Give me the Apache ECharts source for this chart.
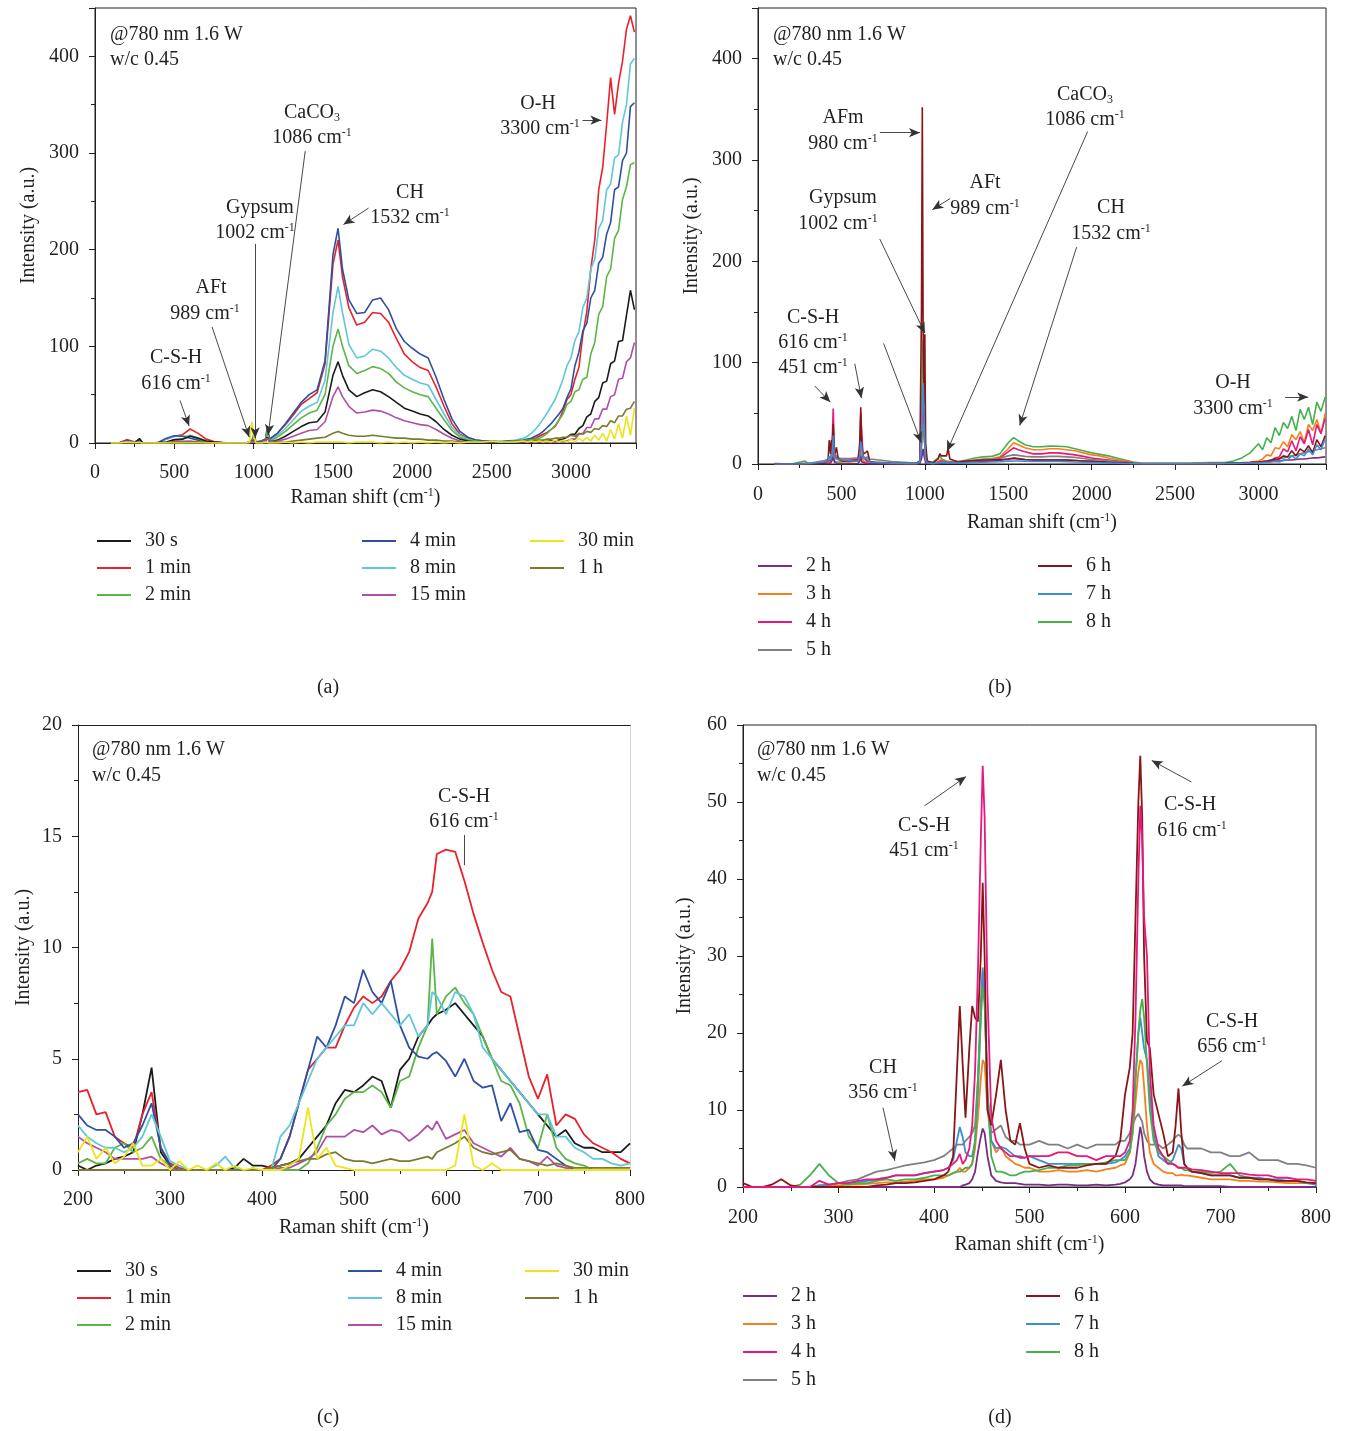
<!DOCTYPE html>
<html>
<head>
<meta charset="utf-8">
<title>Raman spectra of hydrating cement paste</title>
<script src="https://cdn.jsdelivr.net/npm/echarts@6/dist/echarts.min.js"></script>
<style>
  html, body { margin: 0; padding: 0; background: #fff; }
  #main { width: 1347px; height: 1431px; }
</style>
</head>
<body>
<div id="main"></div>
<script>
// ---- panel (a): early age, full range ----
const A_X = [
  100,150,200,250,280,300,350,400,450,500,
  550,600,650,700,750,800,850,900,950,975,
  989,1002,1015,1050,1075,1086,1100,1150,1200,1250,
  1300,1350,1400,1450,1500,1532,1560,1600,1650,1700,
  1750,1800,1850,1900,1950,2000,2050,2100,2150,2200,
  2250,2300,2350,2400,2450,2500,2550,2600,2650,2700,
  2725,2750,2775,2800,2825,2850,2875,2900,2925,2950,
  2975,3000,3025,3050,3075,3100,3125,3150,3175,3200,
  3225,3250,3275,3300,3325,3350,3375,3400
]
const A_30S = [
  0,0,1,0,4.6,0,0,0.5,1,3.5,
  4,7,5,2,1,0.5,0,0,0,0,
  2,3,1,1,2,6,1,3,7,12,
  17,21,22,32,70,84,70,55,48,52,
  55,53,48,42,36,33,30,28,22,14,
  8,4,2,1,1,1,1,1,1,1,
  1,1,1,1,1,2,2,2,3,4,
  6,9,9,15,18,27,30,43,47,62,
  64,82,85,105,106,132,158,138
]
const A_1MIN = [
  0,0,3.5,1,3.5,0.5,0,0.5,4,7,
  8.5,14.5,10,4,1.5,0.5,0,0,0,1,
  2,3,1,2,4,16,4,10,19,29,
  40,46,52,82,185,210,172,140,122,125,
  135,134,125,108,92,84,78,75,58,38,
  20,9,5,3,2,2,1,2,2,2,
  3,4,5,7,9,11,14,17,24,33,
  45,50,66,78,112,136,180,210,262,285,
  330,378,340,372,395,428,442,425
]
const A_2MIN = [
  0,0,0.5,0,1,0,0,0,0.5,3,
  3.5,8,5,1,0.2,0,0,0,0,1,
  2,3,1,1,3,12,2,6,12,19,
  26,31,34,50,100,118,100,80,72,75,
  79,77,72,63,57,53,50,48,36,24,
  13,6,3,2,1,1,1,1,2,2,
  3,3,4,5,7,10,14,18,24,30,
  40,43,53,55,66,68,92,104,133,141,
  172,180,212,220,252,265,288,290
]
const A_4MIN = [
  0,0,2.5,1,3,0.5,0,0.5,5,7.5,
  7,5,3,1,0.5,0,0,0,0,1,
  2,3,1,2,4,14,4,10,20,31,
  42,50,55,85,195,222,180,148,134,135,
  148,150,138,118,105,98,92,88,68,45,
  25,12,6,3,2,2,1,2,2,3,
  4,5,7,9,12,16,20,25,30,36,
  47,56,80,94,116,124,150,158,186,192,
  216,228,262,265,292,300,348,352
]
const A_8MIN = [
  0,0,2,1,2.5,0.5,0,0.5,4,7,
  7,7.5,5.5,2,0.5,0,0,0,0,1,
  3,10,1,2,4,15,3,8,15,24,
  33,38,42,65,135,162,135,102,88,90,
  97,95,88,78,70,66,62,60,45,30,
  16,8,4,3,2,2,2,2,3,5,
  7,10,14,19,25,31,38,45,55,66,
  80,88,106,115,140,150,180,190,222,230,
  262,268,295,298,332,350,392,398
]
const A_15MIN = [
  0,0,1.5,0.5,1,0,0,0,0.5,1.5,
  1.8,2,1,0.5,0,0,0,0,0,0,
  1,2,0,1,2,5,1,2,4,7,
  10,13,14,22,48,58,48,38,31,32,
  34,33,30,26,23,21,19,18,14,9,
  5,2,1,1,1,1,1,1,1,1,
  1,1,1,1,1,1,1,1,2,2,
  2,4,4,9,10,16,16,25,25,35,
  35,48,50,66,67,84,88,104
]
const A_30MIN = [
  0,0,1,0.5,0.5,0,0,0,0,0,
  0,0,0,0,0,0,0,0,0,1,
  22,6,0,0,1,2,0,0,1,0,
  1,0,1,1,1,1,1,0,1,1,
  1,0,1,0,1,0,1,0,1,0,
  1,0,1,1,1,2,1,1,1,2,
  1,2,1,2,1,2,1,3,1,3,
  1,4,1,5,2,6,2,8,3,10,
  2,14,4,20,5,28,8,36
]
const A_1H = [
  0,0,0,0,0,0,0,0,0.5,0.5,
  0.4,1,1,0.3,0,0,0,0,0,1,
  3,8,1,0,0,1,0,1,1,2,
  3,4,5,6,10,12,10,8,7,7,
  8,7,6,5,5,4,4,3,3,2,
  2,1,1,1,1,1,1,1,2,2,
  2,2,3,3,3,4,4,5,5,6,
  6,8,7,10,9,12,11,15,14,18,
  17,23,21,28,28,35,36,43
]

// ---- panel (b): 2 h to 8 h, full range ----
const B_X = [
  100,200,280,300,400,420,427,435,440,446,
  451,458,470,480,500,550,600,610,616,622,
  630,656,670,700,800,900,950,970,980,985,
  990,995,1000,1005,1015,1050,1080,1090,1100,1130,
  1140,1150,1200,1250,1300,1350,1400,1450,1500,1532,
  1560,1600,1650,1700,1750,1800,1850,1900,1950,2000,
  2050,2100,2150,2200,2250,2300,2350,2400,2500,2600,
  2700,2800,2850,2900,2950,3000,3025,3050,3075,3100,
  3125,3150,3175,3200,3225,3250,3275,3300,3325,3350,
  3375,3400
]
const B_2H = [
  0,0,0,0.2,0.5,0.5,0.5,1,1,4,
  7.6,2,0.8,0.5,0.3,0.3,0.5,3,7.8,2,
  0.3,0.2,0.1,0.1,0,0,0,0.5,5,10,
  15,8,5,1,0.3,0.2,0.5,1,1,0.8,
  1,0.8,1,1.5,2,2.5,3,3.5,5,6,
  5.5,4.5,4,4,4,4,3.8,3.5,3,2.8,
  2.5,2,1.5,1,0.5,0.3,0.2,0.2,0.2,0.2,
  0.3,0.5,0.8,1,1.2,1.5,1.8,2,2.5,3,
  3,3.5,4,4,4.5,5,5,5.5,6,6,
  6.5,7
]
const B_3H = [
  0,0,0.2,0.2,1,1.8,2.5,2,3,9,
  16.5,8,5.3,3.5,2.5,2,2.5,7,16.5,12,
  3,1.5,1.4,1,0.5,0.3,0.5,2,20,40,
  55,30,20,5,1,0.5,2,4,3,2,
  3,2,2,3,4,5,5.5,7,15,21,
  19,16,14,14,15,15,14,13,11,9,
  8,6,4.5,3,1.5,0.8,0.5,0.5,0.5,0.5,
  0.8,1,1.2,1.5,2,3,5,9,8,16,
  15,22,17,29,24,32,21,39,33,44,
  30,50
]
const B_4H = [
  0,0,0.8,0.5,2,3,4.3,4,8,28,
  54.7,9,5,4,4,4,4.5,22,49.5,30,
  8,2.5,2.5,1.8,1,0.5,0.5,2,25,50,
  70,40,25,5,1,0.5,2,3,3,2,
  2,2,2,3,3.5,4,4.5,6,12,16,
  14,12,10,10,11,11,10,9,7.5,6,
  5,4,3,2,1,0.5,0.5,0.5,0.5,0.5,
  0.5,0.8,1,1.2,1.5,2,2.5,3,3,6,
  7,15,12,23,13,27,20,34,19,39,
  30,45
]
const B_5H = [
  0,0,0,0.5,3.5,5,5.5,6.5,7,14,
  28.5,8,8,6,5.5,5.5,6,9,9,8.5,
  5.5,6.8,5,4.5,2.5,1.5,1,2,15,30,
  40,25,18,4,1.5,1,1.5,2,2,2,
  2,2,2.5,3,3.5,4.5,5,6,8,9,
  8.5,7.5,7,7,7.5,7.5,7,6.5,5.5,4.5,
  4,3.5,2.5,1.5,1,0.5,0.5,0.5,0.5,0.5,
  0.5,0.8,1,1,1.2,1.5,2,2.5,3,4,
  5,6,7,8,9,10,11,12,13,14,
  15,16
]
const B_6H = [
  0.5,0,0,0,1,4,23.5,10,23.5,21.5,
  39.5,8,16.5,6,3,2.5,4,15.5,56,19,
  9.5,12.8,2.5,1.5,0.8,0.5,0.5,3,150,352,
  130,60,128,20,3,1,5,10,8,8,
  15,5,2,3,3.5,4,4,4.5,5,5.5,
  5,4.5,4,4,4,4,3.8,3.5,3,2.5,
  2,1.5,1,0.8,0.5,0.3,0.3,0.3,0.3,0.3,
  0.5,0.8,1,1.2,1.5,2,2.5,3,4,5,
  5,8,7,13,8,15,12,18,11,24,
  17,28
]
const B_7H = [
  0,0,0.2,0.5,2,3.5,7.8,4,4,12,
  28,6,5.2,4.5,4,3,3,8,22,16.5,
  7,5.5,2,1.5,0.8,0.5,0.5,2,30,60,
  80,50,20,4,1,0.5,1,2,1.5,1,
  1.2,1,1,1.2,1.5,1.8,2,2.2,2.8,3,
  3,2.8,2.5,2.5,2.5,2.5,2.3,2,1.8,1.5,
  1.2,1,0.8,0.5,0.3,0.2,0.2,0.2,0.2,0.2,
  0.3,0.5,0.6,0.8,1,1.2,1.5,1.8,2,2.5,
  2,4,4,8,5,10,8,15,9,19,
  14,25
]
const B_8H = [
  0,0,3,0.5,1.5,2,2,2.5,3,14,
  25.9,3,2,1.5,2,2.8,3.5,14,24.4,16,
  6,2.5,2,2,1,0.5,0.8,3,40,100,
  122,80,40,10,2,2,6,9,5,3,
  3,2.5,2.5,4,6,7,7.5,10,21,26,
  23,19,17,17,17.6,17.5,17,15,13,11,
  9.5,8,6,4,2,1,0.8,0.8,0.8,1,
  1.5,1.5,3,6,11,20,14,26,21,36,
  28,41,35,47,33,54,44,56,39,61,
  52,66
]

// ---- panel (c): early age, 200-800 ----
const C_X = [
  200,210,220,230,240,250,260,270,280,290,
  300,310,320,330,340,350,360,370,380,390,
  400,410,420,430,440,450,460,470,480,490,
  500,510,520,530,540,550,560,570,580,585,
  590,600,610,620,630,640,650,660,670,680,
  690,700,710,720,730,740,750,760,770,780,
  790,800
]
const C_30S = [
  0.2,0,0.2,0.3,0.5,0.6,0.8,2.5,4.6,0.8,
  0.2,0,0,0,0,0,0,0.1,0.5,0.2,
  0.2,0.1,0.2,0.3,0.5,1.0,1.5,2.0,3.0,3.6,
  3.5,3.8,4.2,4.0,2.8,4.5,5.0,6.0,6.5,6.8,
  7.0,7.2,7.5,7.0,6.5,6.0,5.0,4.5,4.0,3.5,
  3.0,2.5,2.0,1.5,1.8,1.2,1.0,1.0,0.8,0.8,
  0.8,1.2
]
const C_1MIN = [
  3.5,3.6,2.5,2.6,1.5,1.2,1.0,2.5,3.5,1.0,
  0.3,0.1,0,0,0,0,0,0,0,0,
  0,0.2,0.5,1.5,3.0,4.5,5.0,5.5,5.5,6.5,
  7.3,7.8,7.5,7.8,8.5,9.0,9.8,11.3,12.0,12.5,
  14.2,14.4,14.3,13.0,11.5,10.2,9.0,8.0,7.8,6.0,
  4.2,3.2,4.3,2.0,2.5,2.3,1.6,1.2,1.0,0.8,
  0.5,0.3
]
const C_2MIN = [
  0.3,0.5,0.3,0.3,1.0,1.2,0.8,1.0,1.5,0.5,
  0.2,0,0,0,0,0,0,0,0,0,
  0,0,0,0,0,0.3,1.0,2.0,2.5,3.2,
  3.5,3.5,3.8,3.5,2.8,4.0,4.2,5.5,6.5,10.4,
  7.0,7.8,8.2,7.5,7.0,6.0,5.0,4.0,3.8,3.0,
  1.5,1.0,2.5,1.0,0.5,0.3,0.2,0,0,0,
  0,0
]
const C_4MIN = [
  2.5,2.0,1.8,1.8,1.5,1.0,1.2,2.0,3.0,1.0,
  0.2,0,0,0,0,0,0,0,0,0,
  0,0,0.5,1.5,3.0,4.5,6.0,5.5,6.5,7.8,
  7.5,9.0,8.0,7.5,8.5,6.5,5.5,5.1,5.0,5.2,
  5.3,4.9,4.2,5.0,4.0,3.7,3.8,2.2,3.0,1.7,
  1.8,0.9,0.8,0.5,0.2,0,0,0,0,0,
  0,0
]
const C_8MIN = [
  2.0,1.5,1.2,1.0,1.0,0.8,1.0,1.5,2.5,1.5,
  0.4,0.2,0,0,0,0.2,0.6,0.1,0,0,
  0,0,1.5,2.0,3.0,4.0,5.0,5.5,6.0,6.5,
  6.5,7.5,7.0,7.5,7.0,6.5,7.0,6.0,6.5,8.0,
  7.8,7.0,8.0,7.8,7.0,5.5,5.0,4.5,4.0,3.5,
  3.0,2.5,2.5,1.5,1.5,1.0,0.8,0.5,0.5,0.3,
  0.2,0.3
]
const C_15MIN = [
  1.5,1.2,1.0,0.8,0.5,0.5,0.5,0.5,0.6,0.3,
  0.1,0,0,0,0,0,0,0,0,0,
  0,0,0.1,0.1,0.3,0.5,0.8,1.5,1.5,1.5,
  1.8,1.7,2.0,1.6,1.8,1.7,1.3,1.6,2.0,1.8,
  2.2,1.4,1.6,1.8,1.2,1.0,0.8,0.6,1.0,0.5,
  0.4,0.2,0.6,0.2,0.1,0,0,0,0,0,
  0,0
]
const C_30MIN = [
  0.8,1.5,0.5,1.0,0.3,0.6,1.2,0.2,0.2,0.5,
  0,0.4,0,0.2,0,0.3,0,0.2,0,0.1,
  0,0,0,0.2,0.5,2.8,0.5,1.0,0.2,0.1,
  0,0,0,0,0,0,0,0,0,0,
  0,0,0.2,2.5,0.2,0,0.3,0,0,0,
  0,0,0,0,0,0,0,0,0,0,
  0,0
]
const C_1H = [
  0,0,0,0,0,0,0,0,0,0,
  0,0,0,0,0,0,0,0,0,0,
  0,0.1,0.2,0.3,0.4,0.5,0.5,0.7,0.8,0.5,
  0.4,0.4,0.3,0.4,0.5,0.4,0.4,0.5,0.6,0.5,
  0.8,1.0,1.2,1.5,1.0,0.8,0.7,0.8,0.9,0.5,
  0.4,0.3,0.2,0.3,0.2,0.1,0.1,0.1,0.1,0.1,
  0.1,0.1
]

// ---- panel (d): 2 h to 8 h, 200-800 ----
const D_X = [
  200,210,220,230,240,250,260,270,280,290,
  300,310,320,330,340,350,360,370,380,390,
  400,410,415,420,424,427,430,433,437,440,
  443,446,449,451,453,456,460,465,470,475,
  480,485,490,495,500,510,520,530,540,550,
  560,570,580,590,595,600,605,608,611,614,
  616,618,620,623,626,630,635,640,645,650,
  653,656,659,662,665,670,680,690,700,710,
  720,730,740,750,760,770,780,790,800
]
const D_2H = [
  0,0,0,0,0,0,0,0,0,0,
  0,0,0,0,0,0,0,0,0,0,
  0,0,0,0,0,0,0.2,0.3,0.5,1.0,
  2.0,4.5,6.5,7.6,7.0,4.0,1.5,0.8,0.6,0.5,
  0.5,0.5,0.4,0.3,0.3,0.3,0.2,0.3,0.3,0.2,
  0.2,0.3,0.2,0.3,0.4,0.6,1.0,1.5,3.0,6.0,
  7.8,6.5,4.0,2.0,1.0,0.5,0.3,0.2,0.2,0.2,
  0.2,0.2,0.2,0.1,0.1,0.1,0.1,0.1,0.1,0,
  0,0,0,0,0,0,0,0,0
]
const D_3H = [
  0,0,0,0,0,0,0,0,0.2,0.3,
  0.2,0.3,0.3,0.4,0.5,0.6,0.6,0.7,0.8,1.0,
  1.0,1.2,1.5,1.8,2.0,2.5,2.0,2.0,2.5,3.0,
  5.0,9.0,14.0,16.5,16.0,10.0,6.0,4.5,5.3,4.0,
  3.5,3.0,2.8,2.5,2.5,2.0,2.0,2.2,2.0,2.0,
  2.2,2.0,2.3,2.5,2.8,3.0,4.5,7.0,11.0,15.0,
  16.5,16.0,13.0,8.0,4.5,3.0,2.5,2.0,1.8,1.8,
  1.5,1.5,1.6,1.5,1.5,1.4,1.2,1.0,1.0,1.0,
  0.8,0.8,0.7,0.7,0.6,0.5,0.5,0.5,0.5
]
const D_4H = [
  0,0,0,0,0,0,0,0,0.8,0.3,
  0.5,0.5,0.8,1.0,1.0,1.2,1.5,1.5,1.5,1.8,
  2.0,2.2,2.5,3.0,3.5,4.3,3.0,3.5,5.0,8.0,
  15.0,28.0,45.0,54.7,48.0,25.0,9.0,6.0,5.0,4.5,
  4.0,4.0,3.8,3.8,4.0,4.0,4.0,4.5,4.5,4.0,
  4.0,3.5,4.0,4.0,4.0,4.5,6.0,10.0,22.0,40.0,
  49.5,45.0,35.0,30.0,15.0,8.0,5.0,4.0,3.0,3.0,
  2.8,2.5,2.5,2.5,2.5,2.3,2.2,2.0,1.8,1.8,
  1.8,1.6,1.5,1.5,1.2,1.2,1.0,1.0,0.8
]
const D_5H = [
  0,0,0,0,0,0,0,0,0,0.2,
  0.5,0.8,1.0,1.5,2.0,2.2,2.5,2.8,3.0,3.2,
  3.5,4.0,4.5,5.0,5.5,5.5,5.5,6.0,6.5,7.0,
  8.0,14.0,24.0,28.5,24.0,12.0,7.0,7.5,8.0,6.5,
  6.0,6.0,5.5,5.5,5.5,6.0,5.5,5.5,5.0,5.5,
  5.0,5.5,5.5,5.5,6.0,6.0,7.0,8.0,9.0,9.5,
  9.0,8.5,7.0,6.0,5.5,5.5,5.5,5.0,5.5,6.0,
  6.5,6.8,6.5,5.5,5.0,5.0,5.0,4.5,4.5,4.0,
  4.0,4.5,3.5,3.5,3.5,3.0,3.0,2.8,2.5
]
const D_6H = [
  0.5,0,0,0.3,1.0,0.2,0,0,0,0,
  0,0,0,0,0.2,0.3,0.5,0.5,0.6,0.8,
  1.0,1.5,2.0,4.0,15.0,23.5,16.0,9.0,18.0,23.5,
  22.0,21.5,30.0,39.5,30.0,10.0,8.0,12.0,16.5,10.0,
  6.0,5.5,8.3,5.0,3.0,2.5,2.8,2.5,2.5,2.5,
  2.8,3.0,3.0,4.0,6.0,12.0,15.5,20.0,35.0,50.0,
  56.0,48.0,30.0,19.0,18.0,12.0,9.5,7.0,4.0,4.5,
  8.0,12.8,7.0,3.0,2.5,2.0,1.8,1.5,1.5,1.5,
  1.2,1.2,1.0,1.0,0.8,0.8,0.8,0.6,0.5
]
const D_7H = [
  0,0,0,0,0,0,0,0,0.2,0.3,
  0.5,0.5,0.6,0.8,1.0,1.2,1.5,1.5,1.5,1.8,
  2.0,2.2,2.5,3.5,6.0,7.8,6.5,4.5,4.0,4.0,
  6.0,12.0,22.0,28.0,25.0,12.0,6.0,5.0,5.2,5.0,
  4.5,4.0,4.0,3.8,4.0,3.5,3.0,3.0,3.0,3.0,
  3.0,3.0,3.0,3.2,3.5,4.0,5.0,8.0,14.0,20.0,
  22.0,20.0,18.0,16.5,12.0,7.0,4.0,3.5,3.0,3.5,
  4.5,5.5,5.0,3.0,2.5,2.0,1.8,1.5,1.5,1.5,
  1.2,1.2,1.2,1.0,1.0,0.8,0.8,0.5,0.3
]
const D_8H = [
  0,0,0,0,0,0,0.3,1.5,3.0,1.5,
  0.5,0.3,0.5,0.5,0.8,1.0,0.8,1.0,1.0,1.2,
  1.5,1.5,1.5,1.8,2.0,2.0,2.2,2.5,2.5,3.0,
  6.0,14.0,22.0,25.9,24.0,12.0,4.0,2.0,2.0,1.8,
  1.5,1.5,1.8,2.0,2.0,2.2,2.5,2.5,2.8,2.8,
  3.0,3.0,3.2,3.5,3.5,3.5,4.5,7.0,14.0,20.0,
  23.0,24.4,22.0,16.0,10.0,6.0,4.5,4.0,3.5,3.0,
  2.8,2.5,2.5,2.2,2.2,2.0,2.0,1.8,2.0,3.0,
  1.5,1.2,1.0,1.0,0.8,0.8,0.8,0.5,0.5
]

const EARLY_NAMES = ['30 s', '1 min', '2 min', '4 min', '8 min', '15 min', '30 min', '1 h']
const LATE_NAMES = ['2 h', '3 h', '4 h', '5 h', '6 h', '7 h', '8 h']

// arrows, in data units of each panel: [from, to, hasHead]
const ARROWS_A = [
  [[536, 44], [593, 17.5], true],
  [[738, 120], [972, 6], true],
  [[1009, 206], [1009, 5], true],
  [[1325, 302], [1091, 8], true],
  [[1724, 243], [1566, 226], true],
  [[3073, 334], [3192, 334], true]
]
const ARROWS_B = [
  [[731, 327], [971, 327], true],
  [[730, 222], [1001, 129], true],
  [[1152, 262], [1045, 251], true],
  [[1976, 328], [1133, 12.5], true],
  [[1910, 214], [1569, 38], true],
  [[340, 77], [434, 61], true],
  [[580, 99], [620, 65], true],
  [[753, 119], [979, 21], true],
  [[3160, 66], [3298, 66], true]
]
const ARROWS_C = [
  [[619.6, 15.06], [619.6, 13.7], false]
]
const ARROWS_D = [
  [[390, 49.5], [433.5, 53.3], true],
  [[669.5, 52.6], [628, 55.4], true],
  [[701.5, 16.4], [660, 13.1], true],
  [[346.6, 10.3], [359, 3.4], true]
]

const FONT = '"Liberation Serif", "DejaVu Serif", serif'
const INK = '#231f20'
const COLORS = {
  '30 s': '#1b1b1b', '1 min': '#e8222a', '2 min': '#5cb646', '4 min': '#2f4fa3',
  '8 min': '#5ec7d9', '15 min': '#b04fa7', '30 min': '#ece51b', '1 h': '#7b7a30',
  '2 h': '#7b2c83', '3 h': '#f4801f', '4 h': '#e8177e', '5 h': '#808080',
  '6 h': '#8a1516', '7 h': '#3a8ed3', '8 h': '#46b04b'
}
const RICH = {
  n: { fontFamily: FONT, fontSize: 20, color: INK, lineHeight: 22 },
  s: { fontFamily: FONT, fontSize: 12, color: INK, lineHeight: 12, verticalAlign: 'top' },
  b: { fontFamily: FONT, fontSize: 12, color: INK, lineHeight: 12, verticalAlign: 'bottom' }
}
const wn = v => '{n|' + v + ' cm}{s|-1}'

function spectrum(name, grid, xs, ys, width) {
  if (xs.length !== ys.length) throw new Error('length mismatch: ' + name + ' ' + grid)
  return {
    name,
    type: 'line',
    xAxisIndex: grid,
    yAxisIndex: grid,
    data: xs.map((x, i) => [x, ys[i]]),
    symbol: 'none',
    showSymbol: false,
    color: COLORS[name],
    lineStyle: { width, color: COLORS[name] },
    silent: true,
    animation: false
  }
}

function arrowSeries(grid, arrows) {
  return {
    type: 'line',
    xAxisIndex: grid,
    yAxisIndex: grid,
    data: [],
    silent: true,
    markLine: {
      silent: true,
      animation: false,
      symbol: ['none', 'arrow'],
      symbolSize: [7, 11],
      label: { show: false },
      lineStyle: { color: '#333', width: 0.9, type: 'solid' },
      data: arrows.map(a => [
        { coord: a[0], symbol: 'none' },
        { coord: a[1], symbol: a[2] ? 'arrow' : 'none' }
      ])
    }
  }
}

const plain = v => String(v)

function xAxis(grid, min, max, interval, nameGap, labelMargin, showMax) {
  return {
    type: 'value', gridIndex: grid, min, max, interval,
    name: '{n|Raman shift (cm}{s|-1}{n|)}',
    nameLocation: 'middle',
    nameGap,
    nameTextStyle: { rich: RICH },
    axisLine: { onZero: false, lineStyle: { color: INK, width: 1 } },
    axisTick: { length: 6, lineStyle: { color: INK } },
    minorTick: { show: true, splitNumber: 2, length: 4, lineStyle: { color: INK } },
    axisLabel: { fontFamily: FONT, fontSize: 20, color: INK, margin: labelMargin, showMaxLabel: showMax, formatter: plain },
    splitLine: { show: false },
    minorSplitLine: { show: false }
  }
}

function yAxis(grid, max, interval, nameGap, showMax) {
  return {
    type: 'value', gridIndex: grid, min: 0, max, interval,
    name: 'Intensity (a.u.)',
    nameLocation: 'middle',
    nameGap,
    nameTextStyle: { fontFamily: FONT, fontSize: 20, color: INK },
    axisLine: { show: true, onZero: false, lineStyle: { color: INK, width: 1 } },
    axisTick: { show: true, length: 6, lineStyle: { color: INK } },
    minorTick: { show: true, splitNumber: 2, length: 4, lineStyle: { color: INK } },
    axisLabel: { fontFamily: FONT, fontSize: 20, color: INK, margin: 16, showMaxLabel: showMax, formatter: plain },
    splitLine: { show: false },
    minorSplitLine: { show: false }
  }
}

function legend(left, top, names, gap) {
  return {
    left, top,
    orient: 'vertical',
    data: names,
    icon: 'rect',
    itemWidth: 34,
    itemHeight: 2,
    itemGap: gap,
    selectedMode: false,
    textStyle: { fontFamily: FONT, fontSize: 20, color: INK, lineHeight: 20, padding: [0, 0, 0, 9] }
  }
}

const series = []
const A_SETS = [A_30S, A_1MIN, A_2MIN, A_4MIN, A_8MIN, A_15MIN, A_30MIN, A_1H]
const C_SETS = [C_30S, C_1MIN, C_2MIN, C_4MIN, C_8MIN, C_15MIN, C_30MIN, C_1H]
// draw order for (a) puts the lowest curves last, as in the figure
;[1, 4, 3, 2, 0, 5, 7, 6].forEach(i => series.push(spectrum(EARLY_NAMES[i], 0, A_X, A_SETS[i], 1.6)))
const B_SETS = [B_2H, B_3H, B_4H, B_5H, B_6H, B_7H, B_8H]
;[6, 1, 2, 3, 0, 4, 5].forEach(i => series.push(spectrum(LATE_NAMES[i], 1, B_X, B_SETS[i], 1.6)))
;[0, 1, 2, 3, 4, 5, 7, 6].forEach(i => series.push(spectrum(EARLY_NAMES[i], 2, C_X, C_SETS[i], 1.8)))
const D_SETS = [D_2H, D_3H, D_4H, D_5H, D_6H, D_7H, D_8H]
;[3, 0, 1, 5, 6, 4, 2].forEach(i => series.push(spectrum(LATE_NAMES[i], 3, D_X, D_SETS[i], 1.8)))
series.push(arrowSeries(0, ARROWS_A), arrowSeries(1, ARROWS_B), arrowSeries(2, ARROWS_C), arrowSeries(3, ARROWS_D))

// text annotations (pixel layout of the figure)
const NOTES = [
  [110, 35, '{n|@780 nm 1.6 W}', 'left'], [110, 60, '{n|w/c 0.45}', 'left'],
  [176, 358, '{n|C-S-H}'], [176, 384, wn(616)],
  [211, 288, '{n|AFt}'], [205, 314, wn(989)],
  [260, 208, '{n|Gypsum}'], [255, 233, wn(1002)],
  [312, 113, '{n|CaCO}{b|3}'], [312, 138, wn(1086)],
  [410, 193, '{n|CH}'], [410, 218, wn(1532)],
  [538, 104, '{n|O-H}'], [540, 129, wn(3300)],

  [773, 35, '{n|@780 nm 1.6 W}', 'left'], [773, 60, '{n|w/c 0.45}', 'left'],
  [843, 118, '{n|AFm}'], [843, 144, wn(980)],
  [843, 198, '{n|Gypsum}'], [838, 224, wn(1002)],
  [985, 183, '{n|AFt}'], [985, 209, wn(989)],
  [1085, 95, '{n|CaCO}{b|3}'], [1085, 120, wn(1086)],
  [1111, 208, '{n|CH}'], [1111, 234, wn(1532)],
  [813, 318, '{n|C-S-H}'], [813, 343, wn(616)], [813, 368, wn(451)],
  [1233, 383, '{n|O-H}'], [1233, 409, wn(3300)],

  [92, 750, '{n|@780 nm 1.6 W}', 'left'], [92, 776, '{n|w/c 0.45}', 'left'],
  [464, 797, '{n|C-S-H}'], [464, 822, wn(616)],

  [757, 750, '{n|@780 nm 1.6 W}', 'left'], [757, 776, '{n|w/c 0.45}', 'left'],
  [924, 826, '{n|C-S-H}'], [924, 851, wn(451)],
  [1190, 805, '{n|C-S-H}'], [1192, 831, wn(616)],
  [1232, 1022, '{n|C-S-H}'], [1232, 1047, wn(656)],
  [883, 1068, '{n|CH}'], [883, 1093, wn(356)],

  [328, 688, '{n|(a)}'], [1000, 688, '{n|(b)}'], [328, 1418, '{n|(c)}'], [1000, 1418, '{n|(d)}']
]

const option = {
  backgroundColor: '#fff',
  animation: false,
  grid: [
    { left: 95, top: 8, width: 541, height: 435, show: true, borderColor: INK, borderWidth: 1 },
    { left: 758, top: 8, width: 568, height: 456, show: true, borderColor: INK, borderWidth: 1 },
    { left: 78, top: 725, width: 552, height: 445 },
    { left: 743, top: 725, width: 573, height: 462, show: true, borderColor: INK, borderWidth: 1 }
  ],
  xAxis: [
    xAxis(0, 0, 3410, 500, 44, 20, false),
    xAxis(1, 0, 3405, 500, 48, 21, false),
    xAxis(2, 200, 800, 100, 47, 20, true),
    xAxis(3, 200, 800, 100, 47, 21, true),
    { type: 'value', gridIndex: 2, position: 'top', min: 200, max: 800,
      axisLine: { onZero: false, lineStyle: { color: INK } }, axisTick: { show: false },
      axisLabel: { show: false }, splitLine: { show: false } }
  ],
  yAxis: [
    yAxis(0, 450, 100, 56, false),
    yAxis(1, 450, 100, 56, false),
    yAxis(2, 20, 5, 44, true),
    yAxis(3, 60, 10, 48, true),
    { type: 'value', gridIndex: 2, position: 'right', min: 0, max: 20,
      axisLine: { show: true, onZero: false, lineStyle: { color: '#d6d6d6' } }, axisTick: { show: false },
      axisLabel: { show: false }, splitLine: { show: false } }
  ],
  legend: [
    legend(92, 526, ['30 s', '1 min', '2 min'], 7),
    legend(357, 526, ['4 min', '8 min', '15 min'], 7),
    legend(525, 526, ['30 min', '1 h'], 7),
    legend(753, 551, ['2 h', '3 h', '4 h', '5 h'], 8),
    legend(1033, 551, ['6 h', '7 h', '8 h'], 8),
    legend(72, 1256, ['30 s', '1 min', '2 min'], 7),
    legend(343, 1256, ['4 min', '8 min', '15 min'], 7),
    legend(520, 1256, ['30 min', '1 h'], 7),
    legend(738, 1281, ['2 h', '3 h', '4 h', '5 h'], 8),
    legend(1021, 1281, ['6 h', '7 h', '8 h'], 8)
  ],
  series,
  graphic: NOTES.map(n => ({
    type: 'text',
    x: n[0],
    y: n[1],
    z: 100,
    silent: true,
    style: {
      text: n[2],
      rich: RICH,
      fontFamily: FONT,
      fontSize: 20,
      fill: INK,
      align: n[3] || 'center',
      verticalAlign: 'middle'
    }
  }))
}

const chart = echarts.init(document.getElementById('main'), null, { renderer: 'canvas' })
chart.setOption(option)
</script>
</body>
</html>
